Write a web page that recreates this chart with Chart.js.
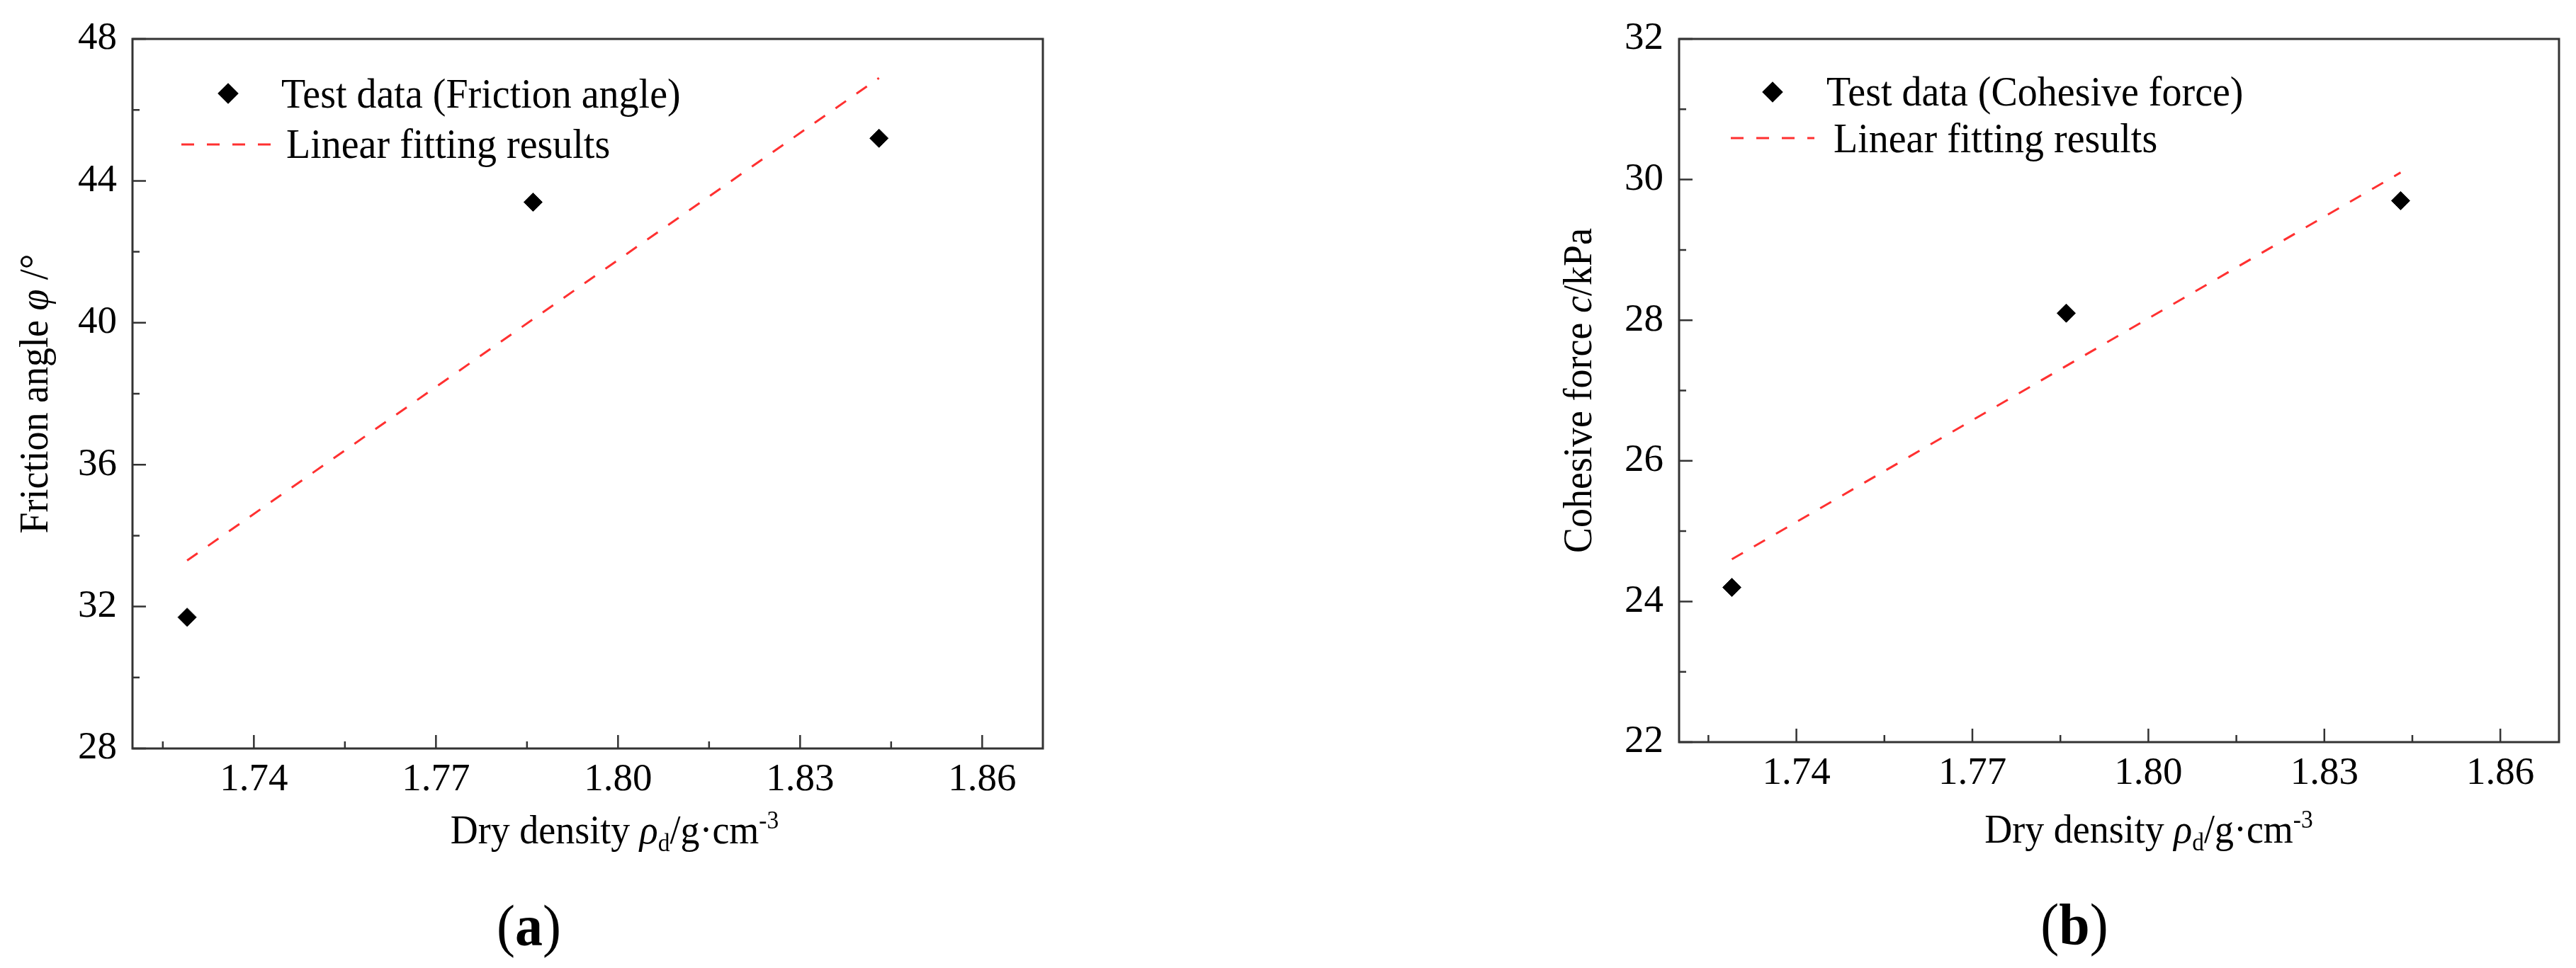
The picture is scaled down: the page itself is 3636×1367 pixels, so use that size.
<!DOCTYPE html>
<html><head><meta charset="utf-8">
<script src="https://cdn.jsdelivr.net/npm/chart.js@4.4.0/dist/chart.umd.min.js"></script>
<style>
html,body{margin:0;padding:0;background:#fff;width:3636px;height:1367px;overflow:hidden}
canvas{position:absolute;top:0}
</style></head>
<body>
<canvas id="ca" width="1800" height="1367" style="left:0px"></canvas>
<canvas id="cb" width="1836" height="1367" style="left:1800px"></canvas>
<script>
// ---- data ----
const dryDensity = [1.729, 1.786, 1.843];
const frictionAngle = [31.7, 43.4, 45.2];
const cohesiveForce = [24.2, 28.1, 29.7];
const fitDensity = [1.729, 1.843];
const frictionFit = [33.3, 46.9];
const cohesiveFit = [24.6, 30.1];
const densityTicks = [1.74, 1.77, 1.80, 1.83, 1.86];
const densityMinorTicks = [1.725, 1.755, 1.785, 1.815, 1.845];
const frictionTicks = [28, 32, 36, 40, 44, 48];
const frictionMinorTicks = [30, 34, 38, 42, 46];
const cohesiveTicks = [22, 24, 26, 28, 30, 32];
const cohesiveMinorTicks = [23, 25, 27, 29, 31];
const densityRange = [1.72, 1.87];
const frictionRange = [28, 48];
const cohesiveRange = [22, 32];
const legendLabelsA = ['Test data (Friction angle)', 'Linear fitting results'];
const legendLabelsB = ['Test data (Cohesive force)', 'Linear fitting results'];
const xTitleSegs = [{t:'Dry density '},{t:'\u03C1',italic:true},{t:'d',sub:true},{t:'/g\u00B7cm'},{t:'-3',sup:true}];
const yTitleSegsA = [{t:'Friction angle '},{t:'\u03C6',italic:true},{t:' /\u00B0'}];
const yTitleSegsB = [{t:'Cohesive force '},{t:'c',italic:true},{t:'/kPa'}];
const panelA = [{t:'('},{t:'a',bold:true},{t:')'}];
const panelB = [{t:'('},{t:'b',bold:true},{t:')'}];

const SERIF = '"Liberation Serif", "Times New Roman", serif';
const STRETCH = 1.06; // reference glyphs are slightly taller than wide

function segFont(seg, size) {
  const s = (seg.sub || seg.sup) ? size * 0.62 : size;
  return (seg.italic ? 'italic ' : '') + (seg.bold ? 'bold ' : '') + s + 'px ' + SERIF;
}
// draws rich text with its baseline at y (stretched vertically around the baseline)
function drawRich(ctx, segs, size, x, y, align) {
  let w = 0;
  const ws = segs.map(sg => { ctx.font = segFont(sg, size); const m = ctx.measureText(sg.t).width; w += m; return m; });
  let cx = align === 'center' ? x - w / 2 : x;
  ctx.save();
  ctx.translate(0, y);
  ctx.scale(1, STRETCH);
  ctx.textAlign = 'left';
  ctx.textBaseline = 'alphabetic';
  segs.forEach((sg, i) => {
    ctx.font = segFont(sg, size);
    const dy = sg.sub ? size * 0.2 : sg.sup ? -size * 0.36 : 0;
    ctx.fillText(sg.t, cx, dy);
    cx += ws[i];
  });
  ctx.restore();
}

const decor = {
  id: 'decor',
  afterDraw(chart, args, o) {
    const {ctx, chartArea: a, scales: {x, y}} = chart;
    const cxm = (a.left + a.right) / 2, cym = (a.top + a.bottom) / 2;
    ctx.save();
    // frame
    ctx.strokeStyle = '#333';
    ctx.lineWidth = 3;
    ctx.strokeRect(a.left, a.top, a.right - a.left, a.bottom - a.top);
    // inward ticks
    ctx.lineWidth = 2.5;
    ctx.beginPath();
    o.xMajor.forEach(v => { const p = x.getPixelForValue(v); ctx.moveTo(p, a.bottom); ctx.lineTo(p, a.bottom - 19); });
    o.xMinor.forEach(v => { const p = x.getPixelForValue(v); ctx.moveTo(p, a.bottom); ctx.lineTo(p, a.bottom - 10); });
    o.yMajor.forEach(v => { const p = y.getPixelForValue(v); ctx.moveTo(a.left, p); ctx.lineTo(a.left + 19, p); });
    o.yMinor.forEach(v => { const p = y.getPixelForValue(v); ctx.moveTo(a.left, p); ctx.lineTo(a.left + 10, p); });
    ctx.stroke();
    // titles
    ctx.fillStyle = '#000';
    drawRich(ctx, xTitleSegs, 54, cxm + o.xTitleDx, a.bottom + o.xTitleDy, 'center');
    ctx.save();
    ctx.translate(a.left - o.yTitleDx, cym);
    ctx.rotate(-Math.PI / 2);
    drawRich(ctx, o.yTitle, 54, 0, 19, 'center');
    ctx.restore();
    drawRich(ctx, o.panel, 78, cxm + o.panelDx, a.bottom + o.panelDy, 'center');
    // legend
    const ds0 = chart.data.datasets[0], ds1 = chart.data.datasets[1];
    const L = o.legend;
    ctx.fillStyle = ds0.backgroundColor;
    ctx.strokeStyle = ds0.borderColor;
    Chart.helpers.drawPoint(ctx, {pointStyle: 'rectRot', radius: ds0.pointRadius, borderWidth: ds0.borderWidth, rotation: 0}, a.left + L.markX, a.top + L.markY);
    ctx.beginPath();
    ctx.strokeStyle = ds1.borderColor;
    ctx.lineWidth = ds1.borderWidth;
    ctx.setLineDash(ds1.borderDash);
    ctx.moveTo(a.left + L.lineX0, a.top + L.lineY);
    ctx.lineTo(a.left + L.lineX1, a.top + L.lineY);
    ctx.stroke();
    ctx.setLineDash([]);
    ctx.fillStyle = '#000';
    drawRich(ctx, [{t: ds0.label}], 56, a.left + L.text1X, a.top + L.base1, 'left');
    drawRich(ctx, [{t: ds1.label}], 56, a.left + L.text2X, a.top + L.base2, 'left');
    ctx.restore();
  }
};

function makeChart(id, c) {
  return new Chart(document.getElementById(id), {
    type: 'scatter',
    data: {
      datasets: [
        {
          label: c.labels[0],
          data: dryDensity.map((d, i) => ({x: d, y: c.values[i]})),
          pointStyle: 'rectRot', pointRadius: 13, pointHoverRadius: 13,
          backgroundColor: '#000', borderColor: '#000', borderWidth: 1, showLine: false
        },
        {
          label: c.labels[1],
          type: 'line',
          data: fitDensity.map((d, i) => ({x: d, y: c.fit[i]})),
          borderColor: '#ff3030', borderWidth: 3, borderDash: [18, 18],
          pointRadius: 0, pointHoverRadius: 0, fill: false, tension: 0
        }
      ]
    },
    options: {
      responsive: false, animation: false, devicePixelRatio: 1,
      layout: {padding: {left: 0, top: c.padTop, right: c.padRight, bottom: 0}},
      plugins: {
        legend: {display: false}, tooltip: {enabled: false},
        decor: {
          xMajor: densityTicks, xMinor: densityMinorTicks, yMajor: c.yTicks, yMinor: c.yMinor,
          yTitle: c.yTitle, panel: c.panel,
          xTitleDx: c.xTitleDx, xTitleDy: c.xTitleDy, yTitleDx: c.yTitleDx,
          panelDx: c.panelDx, panelDy: c.panelDy, legend: c.legend
        }
      },
      scales: {
        x: {
          type: 'linear', min: densityRange[0], max: densityRange[1],
          afterBuildTicks: s => { s.ticks = densityTicks.map(v => ({value: v})); },
          afterFit: s => { s.height = c.xAxisHeight; },
          grid: {display: false, drawTicks: false}, border: {display: false},
          ticks: {font: {family: SERIF, size: 55}, color: '#000', padding: 12, maxRotation: 0, autoSkip: false,
                  callback: v => Number(v).toFixed(2)}
        },
        y: {
          type: 'linear', min: c.yRange[0], max: c.yRange[1],
          afterBuildTicks: s => { s.ticks = c.yTicks.map(v => ({value: v})); },
          afterFit: s => { s.width = c.yAxisWidth; },
          grid: {display: false, drawTicks: false}, border: {display: false},
          ticks: {font: {family: SERIF, size: 55}, color: '#000', padding: 22, autoSkip: false,
                  callback: v => String(v)}
        }
      }
    },
    plugins: [decor]
  });
}

makeChart('ca', {
  labels: legendLabelsA, values: frictionAngle, fit: frictionFit,
  yRange: frictionRange, yTicks: frictionTicks, yMinor: frictionMinorTicks,
  yTitle: yTitleSegsA, panel: panelA,
  padTop: 48, padRight: 328, xAxisHeight: 310, yAxisWidth: 187,
  xTitleDx: 38, xTitleDy: 134, yTitleDx: 139, panelDx: -83, panelDy: 278,
  legend: {markX: 135, markY: 77, text1X: 210, base1: 97, lineX0: 69, lineX1: 196, lineY: 149, text2X: 217, base2: 168}
});
makeChart('cb', {
  labels: legendLabelsB, values: cohesiveForce, fit: cohesiveFit,
  yRange: cohesiveRange, yTicks: cohesiveTicks, yMinor: cohesiveMinorTicks,
  yTitle: yTitleSegsB, panel: panelB,
  padTop: 48, padRight: 24, xAxisHeight: 319, yAxisWidth: 570,
  xTitleDx: 42, xTitleDy: 142, yTitleDx: 143, panelDx: -63, panelDy: 285,
  legend: {markX: 132, markY: 75, text1X: 208, base1: 94, lineX0: 73, lineX1: 191, lineY: 140, text2X: 218, base2: 160}
});
</script>
</body></html>
